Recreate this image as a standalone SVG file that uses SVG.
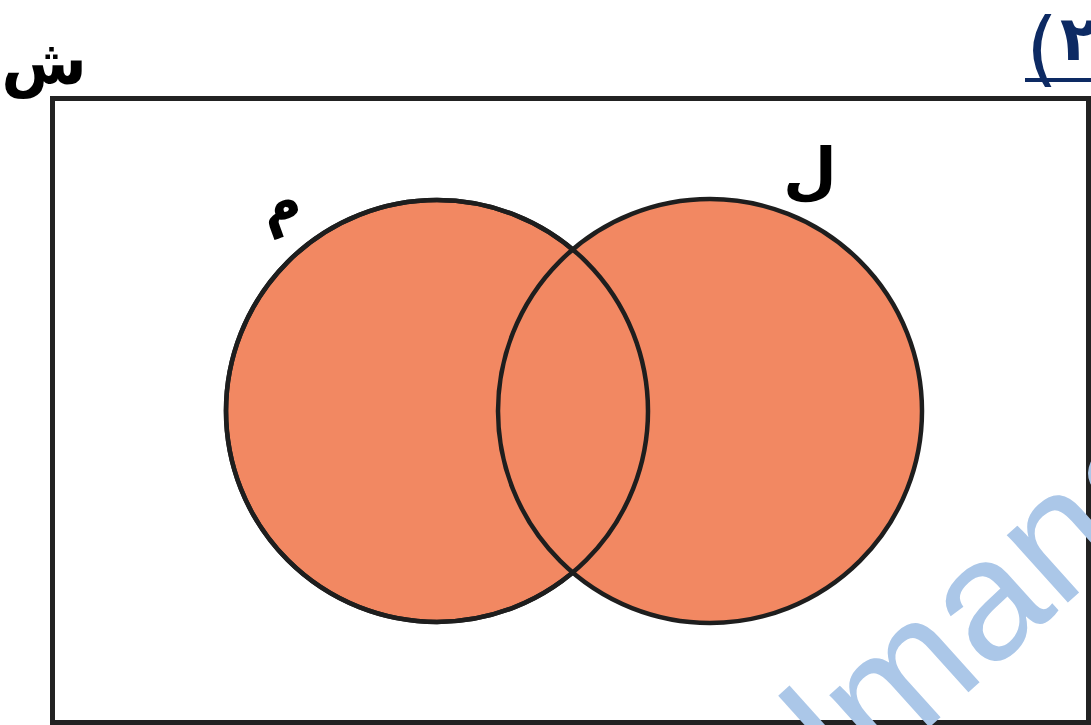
<svg xmlns="http://www.w3.org/2000/svg" width="1091" height="725" viewBox="0 0 1091 725">
<style>
.set{fill:#f28862;stroke:#1e1e1e;stroke-width:4.5}
.lbl{font-family:"DejaVu Sans",sans-serif;font-weight:bold;fill:#000}
</style>
<rect x="0" y="0" width="1091" height="725" fill="#fff"/>
<g id="universe">
<rect x="52.5" y="98.5" width="1036" height="624" fill="#fff" stroke="#222" stroke-width="5"/>
<text class="lbl" x="44" y="84" font-size="62" text-anchor="middle">ش</text>
</g>
<g id="setM">
<circle class="set" cx="437" cy="411" r="211"/>
</g>
<g id="setL">
<circle class="set" cx="710" cy="411" r="212"/>
</g>
<g id="overlap">
<circle cx="437" cy="411" r="211" fill="none" stroke="#1e1e1e" stroke-width="4.5"/>
</g>
<text class="lbl" x="282" y="222" font-size="56" text-anchor="middle" transform="rotate(-20 282 212)">م</text>
<text class="lbl" x="810" y="192" font-size="62" text-anchor="middle">ل</text>
<g id="number" fill="#0d2a63" font-family="DejaVu Sans,sans-serif">
<text x="1026" y="76" font-size="82" direction="ltr">(</text>
<text x="1060" y="60" font-size="62" font-weight="bold" direction="ltr">٢</text>
<rect x="1025" y="78" width="66" height="4"/>
</g>
<text x="853" y="796" font-family="Liberation Sans,sans-serif" font-size="172" fill="#abc7e8" transform="rotate(-42 853 796)">lmana</text>
</svg>
